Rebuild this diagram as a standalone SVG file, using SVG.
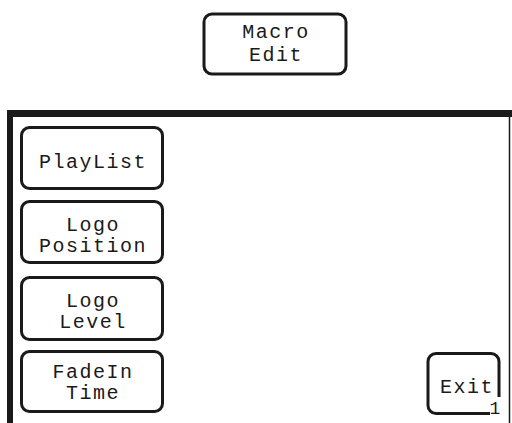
<svg xmlns="http://www.w3.org/2000/svg" width="512" height="423" viewBox="0 0 512 423">
<style>
.btn{fill:#fff;stroke:#1a1a1a;stroke-width:3}
.t{font-family:"Liberation Mono","DejaVu Sans Mono",monospace;font-size:20px;letter-spacing:1.5px;fill:#1a1a1a;text-anchor:middle}
</style>
<rect width="512" height="423" fill="#fff"/>
<g id="macro-edit">
<rect class="btn" x="204" y="14" width="142" height="60" rx="8"/>
<text class="t" x="276" y="38">Macro</text>
<text class="t" x="276" y="61">Edit</text>
</g>
<g id="frame">
<rect x="7" y="110" width="505" height="7" fill="#1a1a1a"/>
<rect x="7" y="110" width="6" height="313" fill="#1a1a1a"/>
<line x1="509.5" y1="117" x2="509.5" y2="423" stroke="#1a1a1a" stroke-width="1.5"/>
</g>
<g id="playlist">
<rect class="btn" x="21.5" y="127.5" width="141" height="61" rx="8"/>
<text class="t" x="93" y="168">PlayList</text>
</g>
<g id="logo-position">
<rect class="btn" x="21.5" y="201.5" width="141" height="61" rx="8"/>
<text class="t" x="93" y="231">Logo</text>
<text class="t" x="93" y="252">Position</text>
</g>
<g id="logo-level">
<rect class="btn" x="21.5" y="277.5" width="141" height="62" rx="8"/>
<text class="t" x="93" y="307">Logo</text>
<text class="t" x="93" y="328">Level</text>
</g>
<g id="fadein-time">
<rect class="btn" x="21.5" y="351.5" width="141" height="60" rx="8"/>
<text class="t" x="93" y="378">FadeIn</text>
<text class="t" x="93" y="399">Time</text>
</g>
<g id="exit">
<path d="M490 413.5 H436 a8 8 0 0 1 -8 -8 V361.5 a8 8 0 0 1 8 -8 H491 a8 8 0 0 1 8 8 V397" fill="none" stroke="#1a1a1a" stroke-width="3"/>
<text class="t" x="467" y="393">Exit</text>
<text class="t" x="495" y="414" style="font-size:18px;letter-spacing:0">1</text>
</g>
<g id="connectors"></g>
</svg>
